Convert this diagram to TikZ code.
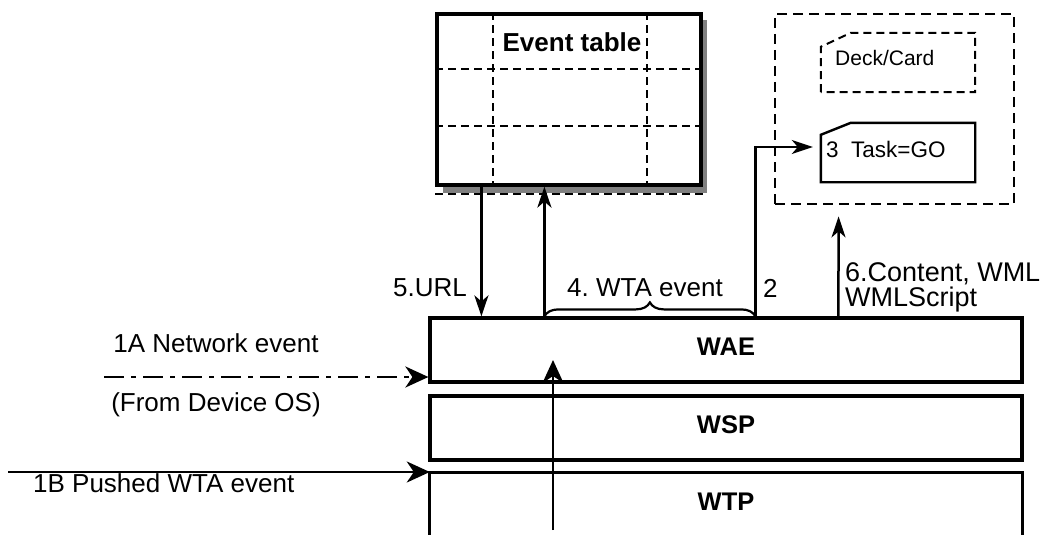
\documentclass[tikz,border=0pt]{standalone}
\usepackage{fontspec}
\setmainfont{Liberation Sans}
\usetikzlibrary{arrows.meta,decorations.pathreplacing,calc}

\begin{document}
\begin{tikzpicture}[x=1pt,y=-1pt,
  every node/.style={font=\fontsize{26}{25}\selectfont, inner sep=0pt},
  layer/.style={minimum width=592pt, minimum height=64pt,
    font=\fontsize{25.5}{25}\selectfont\bfseries, text depth=7pt},
  boxline/.style={line width=3.2pt},
  conn/.style={line width=2.5pt},
  tipS/.style={-{Stealth[length=21pt,width=14pt,inset=6pt]}},
  tipL/.style={-{Stealth[length=23pt,width=21pt,inset=7pt]}},
  cell/.style={line width=2pt, dash pattern=on 8pt off 5pt},
  card/.style={minimum width=154pt, minimum height=59pt},
  small/.style={font=\fontsize{21}{22}\selectfont},
]
\useasboundingbox (0,0) rectangle (1047,535);

% protocol layers
\node[layer, draw, boxline] (wae) at (726,350) {WAE};
\node[layer, draw, boxline] (wsp) at (726,428) {WSP};
\node[layer] (wtp) at (726,505) {WTP};
\draw[boxline] (wtp.south west) -- (wtp.north west) -- (wtp.north east) -- (wtp.south east);

% event table with drop shadow
\fill[gray] (443,20) rectangle (707,193);
\node[draw, boxline, fill=white, minimum width=264pt, minimum height=171pt] (tbl) at (569,99.5) {};
\draw[cell] ($(tbl.south west)+(0,7.5)$) -- ($(tbl.south east)+(0,7.5)$);
\draw[cell] ($(tbl.north west)+(0,57)$) -- ($(tbl.north east)+(0,57)$);
\draw[cell] ($(tbl.north west)+(0,114)$) -- ($(tbl.north east)+(0,114)$);
\draw[cell] ($(tbl.north west)+(58,0)$) -- ($(tbl.south west)+(58,0)$);
\draw[cell] ($(tbl.north west)+(212,0)$) -- ($(tbl.south west)+(212,0)$);
\node[font=\fontsize{26}{25}\selectfont\bfseries] (ttl) at (572,42) {Event table};

% content area with deck and task cards
\node[draw, line width=2.8pt, dash pattern=on 10pt off 6pt,
      minimum width=239pt, minimum height=190pt] (wml) at (894.5,109) {};
\node[card] (deck) at (898,62.5) {};
\draw[line width=2pt, dash pattern=on 8pt off 5pt]
  (deck.south west) -- ($(deck.north west)+(0,14)$) -- ($(deck.north west)+(30,0)$)
  -- (deck.north east) -- (deck.south east) -- cycle;
\node[small, anchor=west] (deckl) at (835,58) {Deck/Card};
\node[card] (task) at (898,152.5) {};
\draw[line width=2.4pt]
  (task.south west) -- ($(task.north west)+(0,12)$) -- ($(task.north west)+(30,0)$)
  -- (task.north east) -- (task.south east) -- cycle;
\node[font=\fontsize{22.5}{24}\selectfont, anchor=west] (taskl) at (826,149) {3\ \ Task=GO};

% connectors between table, content area and WAE
\draw[conn,tipS] ($(tbl.south west)+(46,0)$) -- ($(wae.north west)+(53,0)$);
\draw[conn,tipS] ($(wae.north west)+(116,0)$) -- ($(tbl.south west)+(109,0)$);
\draw[conn,tipS] ($(wae.north west)+(327,0)$) |- ($(task.west)+(-8,-5.5)$);
\draw[conn,tipS] ($(wae.north west)+(410,0)$) -- ($(wml.south west)+(65,11)$);
\draw[line width=2.2pt, decorate, decoration={brace, amplitude=14pt}]
  ($(wae.north west)+(116,0)$) -- ($(wae.north west)+(327,0)$);

% incoming events
\coordinate (srcA) at (104,377);
\draw[conn, tipL, dash pattern=on 20pt off 7pt on 5pt off 7pt] (srcA) -- (srcA -| wae.west);
\coordinate (srcB) at (8,472);
\draw[conn, tipL] (srcB) -- (srcB -| wtp.west);
\coordinate (srcC) at (553,530);
\coordinate (dstC) at (553,360);
\draw[conn, tipL] (srcC) -- (dstC);

% labels
\node[anchor=east] (lurl) at (467,288) {5.URL};
\node (lwta) at (645,288) {4.\ WTA event};
\node[anchor=west] (ltwo) at (763,288) {2};
\node[anchor=base west, font=\fontsize{27}{25}\selectfont] (lsix) at (845,281) {6.Content, WML};
\node[anchor=base west, font=\fontsize{27}{25}\selectfont] (lscr) at (845,306) {WMLScript};
\node (lnet) at (216,343) {1A Network event};
\node (los) at (216,405) {(From Device OS)};
\node[anchor=west] (lpush) at (33,483) {1B Pushed WTA event};
\end{tikzpicture}
\end{document}
